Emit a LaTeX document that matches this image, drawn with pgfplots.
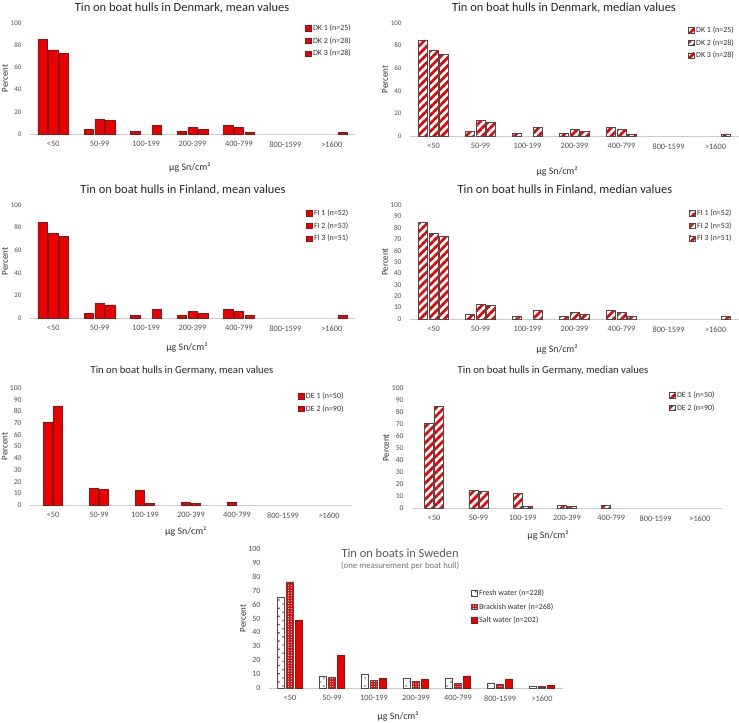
\documentclass[border=0pt]{standalone}
\usepackage{fontspec}
\setmainfont{Carlito}
\usepackage{pgfplots}
\pgfplotsset{compat=1.18}
\usetikzlibrary{patterns.meta}
\definecolor{barred}{RGB}{236,0,0}
\definecolor{edgered}{RGB}{130,25,25}
\definecolor{titlegray}{RGB}{38,38,38}
\definecolor{txtgray}{RGB}{50,50,50}
\definecolor{tickgray}{RGB}{80,80,80}
\pgfplotsset{
  /pgfplots/ybar legend/.style={
    /pgfplots/legend image code/.code={\draw[##1, line width=0.5bp] (0bp,-2.7bp) rectangle (5.4bp,2.7bp);}},
  base/.style={
    scale only axis, anchor=south west,
    ybar, ymin=0, ymax=100, xmin=-0.5, xmax=6.5,
    enlargelimits=false,
    xtick={0,...,6},
    xticklabels={<50,50-99,100-199,200-399,400-799,800-1599,>1600},
    axis lines=left,
    axis line style={-},
    y axis line style={draw=none},
    x axis line style={draw=black!20, line width=0.7bp},
    major tick length=0pt,
    tick label style={text=tickgray},
    xticklabel style={font=\fontsize{8.3}{9}\selectfont, yshift=-4bp},
    yticklabel style={xshift=-5bp},
    /pgf/number format/assume math mode=true,
    title style={font=\fontsize{12.5}{14}\selectfont, text=titlegray, anchor=base, yshift=-6pt},
    xlabel style={font=\fontsize{10}{12}\selectfont, text=txtgray, anchor=base},
    ylabel style={font=\fontsize{9}{11}\selectfont, text=txtgray, anchor=center},
    xlabel={µg Sn/cm²}, ylabel={Percent},
    legend style={draw=none, fill=none, inner sep=0pt, anchor=north west,
      font=\fontsize{8}{9.6}\selectfont, text=txtgray, row sep=1.3bp,
      cells={anchor=west}},
    legend cell align=left,
  },
  meanbar/.style={fill=barred, draw=edgered, line width=0.6bp},
  medbar/.style={pattern={Lines[angle=45,distance=5.7bp,line width=2.7bp]}, pattern color=barred, draw=black!70, line width=0.6bp},
}
\begin{document}
\begin{tikzpicture}
\useasboundingbox (0,0) rectangle (739bp,-723bp);

% ---------- Denmark mean ----------
\begin{axis}[base, at={(30bp,-134bp)}, width=325bp, height=111bp,
  bar width=9.3bp, ybar=1.4bp,
  ytick={0,20,...,100}, yticklabel style={font=\fontsize{7}{8}\selectfont},
  title={Tin on boat hulls in Denmark, mean values},
  title style={at={(axis description cs:0.468,1.108)}},
  xlabel style={at={(axis description cs:0.492,-0.33)}},
  ylabel style={at={(axis description cs:-0.077,0.5)}},
  legend style={at={(axis description cs:0.846,1.004)}}]
\addplot[meanbar] coordinates {(0,85) (1,4) (2,2) (3,2) (4,7.5)};
\addplot[meanbar] coordinates {(0,75.7) (1,13.5) (3,5.7) (4,5.7)};
\addplot[meanbar] coordinates {(0,72.5) (1,12) (2,7.8) (3,3.9) (4,1.8) (6,1.8)};
\legend{DK 1 (n=25), DK 2 (n=28), DK 3 (n=28)}
\end{axis}

% ---------- Denmark median ----------
\begin{axis}[base, at={(410bp,-136bp)}, width=329bp, height=113bp,
  bar width=9bp, ybar=1.3bp,
  ytick={0,20,...,100}, yticklabel style={font=\fontsize{7}{8}\selectfont},
  title={Tin on boat hulls in Denmark, median values},
  title style={at={(axis description cs:0.468,1.106)}},
  xlabel style={at={(axis description cs:0.447,-0.345)}},
  ylabel style={at={(axis description cs:-0.076,0.5)}},
  legend style={at={(axis description cs:0.845,0.987)}}]
\addplot[medbar] coordinates {(0,85) (1,4) (2,2) (3,2) (4,7.5)};
\addplot[medbar] coordinates {(0,75.7) (1,13.5) (3,5.7) (4,5.7)};
\addplot[medbar] coordinates {(0,72.5) (1,12) (2,7.8) (3,3.9) (4,1.8) (6,1.8)};
\legend{DK 1 (n=25), DK 2 (n=28), DK 3 (n=28)}
\end{axis}

% ---------- Finland mean ----------
\begin{axis}[base, at={(30bp,-318bp)}, width=325bp, height=113bp,
  bar width=9.3bp, ybar=1.4bp,
  ytick={0,20,...,100}, yticklabel style={font=\fontsize{7}{8}\selectfont},
  title={Tin on boat hulls in Finland, mean values},
  title style={at={(axis description cs:0.471,1.106)}},
  xlabel style={at={(axis description cs:0.483,-0.285)}},
  ylabel style={at={(axis description cs:-0.077,0.5)}},
  legend style={at={(axis description cs:0.849,0.978)}}]
\addplot[meanbar] coordinates {(0,84.5) (1,3.8) (2,2) (3,2) (4,7.7)};
\addplot[meanbar] coordinates {(0,75.2) (1,13) (3,5.8) (4,5.8)};
\addplot[meanbar] coordinates {(0,72.5) (1,11.6) (2,7.8) (3,3.9) (4,2) (6,2)};
\legend{FI 1 (n=52), FI 2 (n=53), FI 3 (n=51)}
\end{axis}

% ---------- Finland median ----------
\begin{axis}[base, at={(410bp,-319bp)}, width=329bp, height=114bp,
  bar width=9bp, ybar=1.3bp,
  ytick={0,10,...,100}, yticklabel style={font=\fontsize{7.4}{8}\selectfont},
  title={Tin on boat hulls in Finland, median values},
  title style={at={(axis description cs:0.471,1.105)}},
  xlabel style={at={(axis description cs:0.447,-0.29)}},
  ylabel style={at={(axis description cs:-0.076,0.5)}},
  legend style={at={(axis description cs:0.848,0.978)}}]
\addplot[medbar] coordinates {(0,84.5) (1,3.8) (2,2) (3,2) (4,7.7)};
\addplot[medbar] coordinates {(0,75.2) (1,13) (3,5.8) (4,5.8)};
\addplot[medbar] coordinates {(0,72.5) (1,11.6) (2,7.8) (3,3.9) (4,2) (6,2)};
\legend{FI 1 (n=52), FI 2 (n=53), FI 3 (n=51)}
\end{axis}

% ---------- Germany mean ----------
\begin{axis}[base, at={(30bp,-505bp)}, width=322bp, height=117bp,
  bar width=9.2bp, ybar=1bp,
  ytick={0,10,...,100}, yticklabel style={font=\fontsize{7.6}{8}\selectfont},
  title={Tin on boat hulls in Germany, mean values},
  title style={font=\fontsize{10.7}{12}\selectfont, at={(axis description cs:0.472,1.128)}},
  xlabel style={at={(axis description cs:0.484,-0.255)}},
  ylabel style={at={(axis description cs:-0.078,0.5)}},
  legend style={at={(axis description cs:0.832,0.979)}}]
\addplot[meanbar] coordinates {(0,70.4) (1,14.5) (2,12.2) (3,2.3) (4,2.3)};
\addplot[meanbar] coordinates {(0,84.7) (1,13.6) (2,1.4) (3,1.4)};
\legend{DE 1 (n=50), DE 2 (n=90)}
\end{axis}

% ---------- Germany median ----------
\begin{axis}[base, at={(412bp,-508bp)}, width=310bp, height=120bp,
  bar width=9bp, ybar=1bp,
  ytick={0,10,...,100}, yticklabel style={font=\fontsize{7.6}{8}\selectfont},
  title={Tin on boat hulls in Germany, median values},
  title style={font=\fontsize{10.7}{12}\selectfont, at={(axis description cs:0.455,1.125)}},
  xlabel style={at={(axis description cs:0.439,-0.25)}},
  ylabel style={at={(axis description cs:-0.084,0.5)}},
  legend style={at={(axis description cs:0.829,0.988)}}]
\addplot[medbar] coordinates {(0,70.4) (1,14.5) (2,12.2) (3,2.3) (4,2.3)};
\addplot[medbar] coordinates {(0,84.7) (1,13.6) (2,1.4) (3,1.4)};
\legend{DE 1 (n=50), DE 2 (n=90)}
\end{axis}

% ---------- Sweden ----------
\begin{axis}[base, at={(269bp,-688bp)}, width=294bp, height=139bp,
  bar width=7.5bp, ybar=1.5bp,
  ytick={0,10,...,100}, yticklabel style={font=\fontsize{8}{9}\selectfont},
  title={Tin on boats in Sweden},
  title style={text=black!65, at={(axis description cs:0.446,0.94)}},
  xlabel style={at={(axis description cs:0.439,-0.23)}},
  ylabel style={at={(axis description cs:-0.088,0.5)}},
  legend style={at={(axis description cs:0.687,0.723)}, row sep=2.2bp}]
\addplot[pattern={Dots[distance=5.8bp,angle=45,radius=0.9bp]}, pattern color=barred, draw=black!70, line width=0.6bp]
  coordinates {(0,65.6) (1,8.4) (2,9.6) (3,6.7) (4,6.7) (5,3.1) (6,1.2)};
\addplot[preaction={fill=barred}, pattern={Dots[distance=2.6bp,radius=0.65bp]}, pattern color=white, draw=black!70, line width=0.6bp]
  coordinates {(0,76.4) (1,7.5) (2,5.5) (3,4.8) (4,3.1) (5,2.6) (6,1)};
\addplot[meanbar]
  coordinates {(0,48.8) (1,23.6) (2,7.2) (3,6) (4,8.7) (5,6) (6,1.9)};
\legend{Fresh water (n=228), Brackish water (n=268), Salt water (n=202)}
\node[anchor=base, font=\fontsize{8.8}{10}\selectfont, text=black!55] at (axis description cs:0.446,0.858) {(one measurement per boat hull)};
\end{axis}
\end{tikzpicture}
\end{document}
